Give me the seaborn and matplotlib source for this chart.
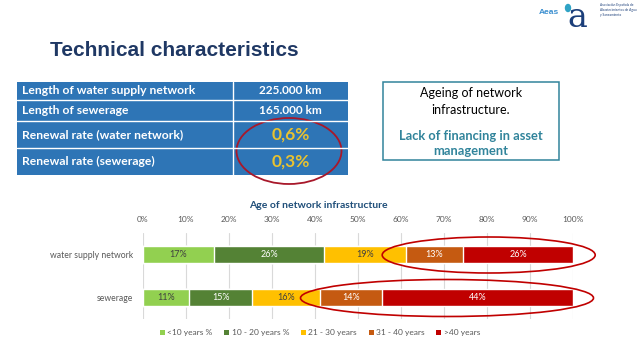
import matplotlib
matplotlib.use("Agg")
import matplotlib.pyplot as plt
import seaborn as sns
import numpy as np
import pandas as pd
from matplotlib.patches import Rectangle, Ellipse, Patch

# ---------------- data ----------------
table_labels = ["Length of water supply network", "Length of sewerage",
                "Renewal rate (water network)", "Renewal rate (sewerage)"]
table_values = ["225.000 km", "165.000 km", "0,6%", "0,3%"]

categories = ["water supply network", "sewerage"]
age_groups = ["<10 years %", "10 - 20 years %", "21 - 30 years", "31 - 40 years", ">40 years"]
water_supply = [16.6, 25.6, 19.0, 13.2, 25.6]
sewerage = [10.8, 14.6, 15.8, 14.4, 44.4]
xticks = [0, 10, 20, 30, 40, 50, 60, 70, 80, 90, 100]

colors = ["#92D050", "#548235", "#FFC000", "#C55A11", "#C00000"]
label_colors = ["#404040", "white", "#404040", "white", "white"]

W, H = 638, 359
sns.set_theme(style="white")
plt.rcParams["font.family"] = ["Lato", "DejaVu Sans"]

fig = plt.figure(figsize=(W / 100, H / 100), dpi=100)

# ---------------- chart ----------------
ax = fig.add_axes([142.7 / W, 1 - 319 / H, 430.3 / W, 86 / H])
df = pd.DataFrame({"category": np.repeat(categories, len(age_groups)),
                   "group": age_groups * len(categories),
                   "value": water_supply + sewerage})
df["group"] = pd.Categorical(df["group"], age_groups, ordered=True)
df = df.sort_values(["category", "group"])
df["cum"] = df.groupby("category", sort=False)["value"].cumsum()

for i in reversed(range(len(age_groups))):
    sub = df[df["group"] == age_groups[i]]
    sns.barplot(data=sub, x="cum", y="category", order=categories, orient="h",
                color=colors[i], width=0.385, ax=ax, saturation=1, zorder=3)

for _, r in df.iterrows():
    yi = categories.index(r["category"])
    gi = age_groups.index(r["group"])
    ax.text(r["cum"] - r["value"] / 2, yi, f"{r['value']:.0f}%", ha="center", va="center",
            fontsize=6.5, color=label_colors[gi], zorder=5)

ax.set_xlim(0, 100)
ax.set_ylim(1.5, -0.5)
ax.set_xticks(xticks)
ax.set_xticklabels([f"{t}%" for t in xticks])
ax.xaxis.tick_top()
ax.tick_params(axis="x", length=0, pad=7, labelsize=6, labelcolor="#595959")
ax.tick_params(axis="y", length=0, pad=7, labelsize=6.2, labelcolor="#595959")
ax.set_xlabel("")
ax.set_ylabel("")
ax.grid(axis="x", color="#D9D9D9", linewidth=0.8, zorder=0)
ax.set_axisbelow(True)
for s in ax.spines.values():
    s.set_visible(False)

handles = [Patch(facecolor=c, edgecolor="none") for c in colors]
fig.legend(handles, age_groups, ncol=5, loc="center",
           bbox_to_anchor=(320 / W, 1 - 333 / H), frameon=False, fontsize=6,
           labelcolor="#595959", handlelength=0.6, handleheight=0.6,
           handletextpad=0.3, columnspacing=1.4)

fig.text(318.5 / W, 1 - 205 / H, "Age of network infrastructure", ha="center", va="center",
         fontsize=7.5, fontweight="bold", color="#1F4E79")

# ---------------- overlay (slide elements) ----------------
ov = fig.add_axes([0, 0, 1, 1], zorder=10)
ov.set_xlim(0, W)
ov.set_ylim(H, 0)
ov.axis("off")

ov.text(50, 51, "Technical characteristics", ha="left", va="center",
        fontsize=15, fontweight="bold", color="#1F3864", family="Liberation Sans")

# logo
ov.text(549, 12, "Aeas", ha="center", va="center", fontsize=6, fontweight="bold",
        color="#3B8FD0", family="Liberation Sans")
ov.text(577, 27, "a", ha="center", va="baseline", fontsize=24, color="#1C3F7A",
        family="DejaVu Serif")
ov.add_patch(Ellipse((568, 8), 5, 7, color="#2FA3C5"))
ov.text(600, 10, "Asociación Española de\nAbastecimientos de Agua\ny Saneamiento",
        ha="left", va="center", fontsize=2.3, color="#1C3F7A", linespacing=1.2)

# table
rows = [81.7, 100, 120.7, 147.7, 175]
x0, xm, x1 = 16.7, 233, 347.7
ov.add_patch(Rectangle((x0, rows[0]), x1 - x0, rows[-1] - rows[0], facecolor="#2E75B6",
                       edgecolor="none"))
for yy in rows[1:-1]:
    ov.plot([x0, x1], [yy, yy], color="white", lw=1)
ov.plot([xm, xm], [rows[0], rows[-1]], color="white", lw=1)
for i, (lab, val) in enumerate(zip(table_labels, table_values)):
    yc = (rows[i] + rows[i + 1]) / 2
    ov.text(x0 + 5, yc, lab, ha="left", va="center", fontsize=8.7, fontweight="bold", color="white")
    big = "%" in val
    ov.text((xm + x1) / 2, yc, val, ha="center", va="center",
            fontsize=12.5 if big else 8.5, fontweight="bold",
            color="#E8C230" if big else "white")
ov.add_patch(Ellipse((289, 151), 105, 66, fill=False, edgecolor="#A8182A", lw=1.3))

# text box
ov.add_patch(Rectangle((383.3, 82), 175.7, 78.3, fill=False, edgecolor="#31849B", lw=1.1))
ov.text(471, 93, "Ageing of network", ha="center", va="center", fontsize=9, color="black")
ov.text(471, 109.7, "infrastructure.", ha="center", va="center", fontsize=9, color="black")
ov.text(471, 136.3, "Lack of financing in asset", ha="center", va="center", fontsize=9.3,
        fontweight="bold", color="#31849B")
ov.text(471, 150.7, "management", ha="center", va="center", fontsize=9.3,
        fontweight="bold", color="#31849B")

# chart ellipses
ov.add_patch(Ellipse((488.7, 255), 213, 36, fill=False, edgecolor="#C00000", lw=1.2))
ov.add_patch(Ellipse((447, 298), 293, 37, fill=False, edgecolor="#C00000", lw=1.2))

fig.savefig("out.png", dpi=100, facecolor="white")
